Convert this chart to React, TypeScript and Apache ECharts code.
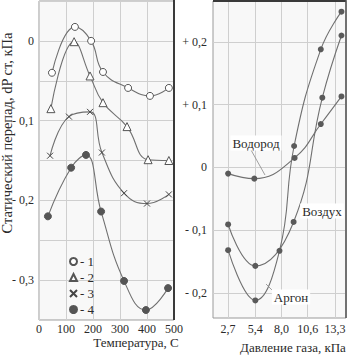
import React, { useEffect, useRef } from "react";
import * as echarts from "echarts";

// ---- Left panel: temperature (°C) vs static pressure drop (kPa)
const tempS1 = [48, 133, 193, 237, 330, 411, 481];
const valS1 = [-0.04, 0.0175, 0, -0.039, -0.059, -0.069, -0.059];
const tempS2 = [44, 130, 189, 237, 326, 404, 481];
const valS2 = [-0.085, -0.001, -0.044, -0.0775, -0.1075, -0.149, -0.15];
const tempS3 = [41, 111, 189, 233, 315, 400, 481];
const valS3 = [-0.144, -0.095, -0.089, -0.14, -0.191, -0.204, -0.1925];
const tempS4 = [33, 119, 174, 230, 315, 396, 478];
const valS4 = [-0.22, -0.159, -0.143, -0.214, -0.301, -0.3375, -0.31];
const leftSeriesNames = ["1", "2", "3", "4"];
const leftYTicks = [0, -0.1, -0.2, -0.3];
const leftYTickLabels = ["0", "- 0,1", "- 0,2", "- 0,3"];

// ---- Right panel: gas pressure (kPa)
const pH2 = [2.7, 5.3, 9.3, 11.9, 13.95];
const vH2 = [-0.01, -0.018, 0.015, 0.069, 0.113];
const pAir = [2.7, 5.4, 9.2, 12.05, 13.95];
const vAir = [-0.091, -0.157, -0.087, 0.111, 0.21];
const pAr = [2.7, 5.4, 7.8, 9.25, 11.9, 13.95];
const vAr = [-0.132, -0.212, -0.133, 0.034, 0.188, 0.248];
const rightSeriesNames = ["Водород", "Воздух", "Аргон"];
const rightXTicks = [2.7, 5.4, 8.0, 10.6, 13.3];
const rightXTickLabels = ["2,7", "5,4", "8,0", "10,6", "13,3"];
const rightYTicks = [-0.2, -0.1, 0, 0.1, 0.2];
const rightYTickLabels = ["- 0,2", "- 0,1", "0", "+ 0,1", "+ 0,2"];

const zip = (xs: number[], ys: number[]) => xs.map((x, i) => [x, ys[i]]);
const SERIF = "'Liberation Serif', 'Times New Roman', serif";
const LINE = "#707070";
const GRIDC = "#cfcfcf";
const TXT = "#2a2a2a";

function labelFor(v: number, ticks: number[], labels: string[]) {
  for (let i = 0; i < ticks.length; i++) {
    if (Math.abs(v - ticks[i]) < 1e-6) return labels[i];
  }
  return "";
}

export default function App() {
  const ref = useRef<HTMLDivElement>(null);
  useEffect(() => {
    if (!ref.current) return;
    const chart = echarts.init(ref.current, null, { renderer: "svg" });
    const axisLbl = { color: TXT, fontFamily: SERIF, fontSize: 12, lineHeight: 12 };
    const crossPath = "path://M0,0L10,10M10,0L0,10";
    const lineBase = {
      type: "line" as const,
      smooth: 0.45,
      lineStyle: { color: LINE, width: 1.1 },
      symbolSize: 7,
      z: 3,
    };
    const txt = (text: string, x: number, y: number, extra: any = {}) => ({
      type: "text", x, y, z: 5,
      style: { text, fontFamily: SERIF, fontSize: 13, fill: TXT, align: "center", verticalAlign: "middle", ...extra },
    });
    chart.setOption({
      animation: false,
      backgroundColor: "#ffffff",
      textStyle: { fontFamily: SERIF },
      grid: [
        { left: 39, top: 1, width: 135, height: 319, show: true, backgroundColor: "#f8f8f8", borderColor: "#9a9a9a", borderWidth: 1 },
        { left: 213, top: 1, width: 133, height: 317, show: true, backgroundColor: "#f8f8f8", borderColor: "#9a9a9a", borderWidth: 1 },
      ],
      xAxis: [
        {
          gridIndex: 0, type: "value", min: 0, max: 500, interval: 100,
          axisLine: { show: false }, axisTick: { show: false },
          splitLine: { show: true, lineStyle: { color: GRIDC, width: 1 } },
          axisLabel: { ...axisLbl, margin: 3 },
        },
        {
          gridIndex: 1, type: "value", min: 1.2, max: 14.4,
          axisLine: { show: false },
          axisTick: { show: false, customValues: rightXTicks },
          splitLine: { show: true, lineStyle: { color: GRIDC, width: 1 } },
          axisLabel: {
            ...axisLbl, margin: 5, customValues: rightXTicks,
            formatter: (v: number) => labelFor(v, rightXTicks, rightXTickLabels),
          },
        },
      ],
      yAxis: [
        {
          gridIndex: 0, type: "value", min: -0.35, max: 0.05, interval: 0.05,
          axisLine: { show: false }, axisTick: { show: false },
          splitLine: { show: true, lineStyle: { color: GRIDC, width: 1 } },
          axisLabel: {
            ...axisLbl, margin: 5, customValues: leftYTicks,
            formatter: (v: number) => labelFor(v, leftYTicks, leftYTickLabels),
          },
        },
        {
          gridIndex: 1, type: "value", min: -0.24, max: 0.265,
          axisLine: { show: false },
          axisTick: { show: false, customValues: rightYTicks },
          splitLine: { show: true, lineStyle: { color: GRIDC, width: 1 } },
          axisLabel: {
            ...axisLbl, margin: 6, customValues: rightYTicks,
            formatter: (v: number) => labelFor(v, rightYTicks, rightYTickLabels),
          },
        },
      ],
      legend: {
        left: 64, top: 250, orient: "vertical", itemWidth: 7, itemHeight: 7, itemGap: 3,
        textStyle: { fontFamily: SERIF, fontSize: 13, lineHeight: 13, color: TXT, padding: [0, 0, 0, -2] },
        formatter: (n: string) => "- " + n,
        data: [
          { name: "1", icon: "circle" },
          { name: "2", icon: "triangle" },
          { name: "3", icon: crossPath },
          { name: "4", icon: "circle" },
        ],
      },
      series: [
        {
          ...lineBase, name: leftSeriesNames[0], xAxisIndex: 0, yAxisIndex: 0,
          data: zip(tempS1, valS1), symbol: "circle",
          itemStyle: { color: "#ffffff", borderColor: "#555", borderWidth: 1 },
        },
        {
          ...lineBase, name: leftSeriesNames[1], xAxisIndex: 0, yAxisIndex: 0,
          data: zip(tempS2, valS2), symbol: "triangle", symbolSize: 8,
          itemStyle: { color: "#ffffff", borderColor: "#555", borderWidth: 1 },
        },
        {
          ...lineBase, name: leftSeriesNames[2], xAxisIndex: 0, yAxisIndex: 0,
          data: zip(tempS3, valS3), symbol: crossPath, symbolSize: 6,
          itemStyle: { color: "transparent", borderColor: "#444", borderWidth: 1 },
        },
        {
          ...lineBase, name: leftSeriesNames[3], xAxisIndex: 0, yAxisIndex: 0,
          data: zip(tempS4, valS4), symbol: "circle", symbolSize: 7,
          itemStyle: { color: "#555", borderColor: "#555", borderWidth: 1 },
        },
        {
          ...lineBase, name: rightSeriesNames[0], xAxisIndex: 1, yAxisIndex: 1,
          data: zip(pH2, vH2), symbol: "circle", symbolSize: 6,
          itemStyle: { color: "#5a5a5a" },
        },
        {
          ...lineBase, name: rightSeriesNames[1], xAxisIndex: 1, yAxisIndex: 1,
          data: zip(pAir, vAir), symbol: "circle", symbolSize: 6,
          itemStyle: { color: "#5a5a5a" },
        },
        {
          ...lineBase, name: rightSeriesNames[2], xAxisIndex: 1, yAxisIndex: 1,
          data: zip(pAr, vAr), symbol: "circle", symbolSize: 6,
          itemStyle: { color: "#5a5a5a" },
        },
      ],
      graphic: [
        { type: "line", shape: { x1: 174, y1: 0, x2: 174, y2: 320 }, style: { stroke: "#3a3a3a", lineWidth: 2 }, z: 10 },
        { type: "line", shape: { x1: 213, y1: 1, x2: 346, y2: 1 }, style: { stroke: "#3a3a3a", lineWidth: 2 }, z: 10 },
        { type: "line", shape: { x1: 346, y1: 0, x2: 346, y2: 318 }, style: { stroke: "#555", lineWidth: 1.5 }, z: 10 },
        { ...txt("Статический перепад, dP ст, кПа", 7, 133, { fontSize: 14.5 }), rotation: Math.PI / 2 },
        txt("Температура, С", 136, 342),
        txt("Давление газа, кПа", 293, 347),
        { type: "line", shape: { x1: 251, y1: 150, x2: 265, y2: 175 }, style: { stroke: "#888", lineWidth: 0.8 }, z: 4 },
        { type: "line", shape: { x1: 275, y1: 293, x2: 266, y2: 284 }, style: { stroke: "#888", lineWidth: 0.8 }, z: 4 },
        txt(rightSeriesNames[0], 256, 143, { backgroundColor: "#ffffff", padding: [1, 2] }),
        txt(rightSeriesNames[1], 322, 211, { backgroundColor: "#ffffff", padding: [1, 2] }),
        txt(rightSeriesNames[2], 291, 297, { backgroundColor: "#ffffff", padding: [1, 2] }),
      ],
    });
    return () => chart.dispose();
  }, []);
  return (
    <div
      ref={ref}
      style={{ position: "fixed", left: 0, top: 0, width: 353, height: 355, background: "#fff" }}
    />
  );
}
